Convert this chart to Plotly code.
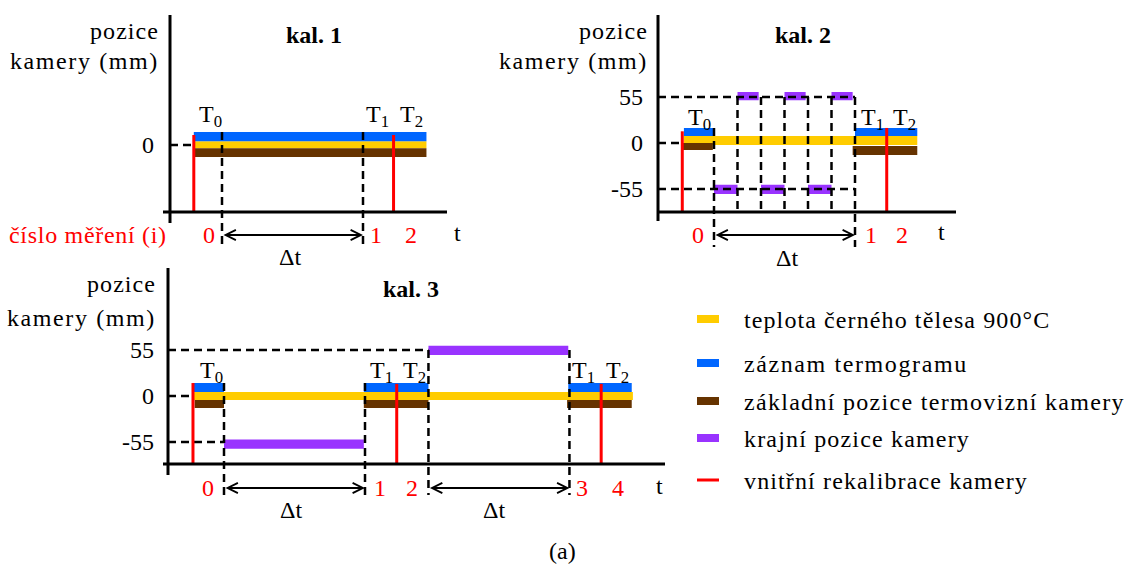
import plotly.graph_objects as go

W, H = 1124, 565
SX = 23.5    # pixels per time unit (one interval Δt = 6 units)
SY = 0.836   # pixels per mm of camera position

SERIF = "Liberation Serif"
FS = 24
BLUE, YELLOW, BROWN, PURPLE, RED = "#0066FF", "#FFCC00", "#663300", "#9933FF", "#FF0000"

# segments: (t_start, t_end, y_low_mm, y_high_mm)
# ---------------- kal. 1 ----------------
k1_yellow = [(-1.2, 8.7, -4.0, 4.5)]
k1_blue = [(-1.2, 8.7, 4.5, 15.5)]
k1_brown = [(-1.15, 8.7, -14.5, -4.0)]
k1_purple = []
k1_recal = [-1.2, 7.3]
k1_recal_top = [12.0, 12.0]
k1_bounds = [0.0, 6.0]
k1_bound_top = [15.5, 15.5]
k1_bound_long = [True, True]
k1_ticks = [0]
k1_guide_end = [-1.2]
k1_dt = [(0.0, 6.0)]
k1_dt_label_t = [2.9]
k1_ids = ["0", "1", "2"]
k1_id_t = [-0.57, 6.55, 8.06]
k1_T = ["T<sub>0</sub>", "T<sub>1</sub>", "T<sub>2</sub>"]
k1_T_t = [-0.5, 6.6, 8.06]

# ---------------- kal. 2 ----------------
k2_yellow = [(-1.28, 8.65, -2.5, 8.5)]
k2_blue = [(-1.28, 0.0, 8.5, 18.0), (6.0, 8.65, 8.5, 18.0)]
k2_brown = [(-1.35, -0.05, -8.5, 0.0), (5.9, 8.65, -14.5, -3.5)]
k2_purple = [(0.0, 1.0, -61.0, -50.0), (1.0, 1.9, 51.0, 61.0),
             (2.0, 3.0, -61.0, -50.0), (3.0, 3.9, 51.0, 61.0),
             (4.0, 5.0, -61.0, -50.0), (5.0, 5.9, 51.0, 61.0)]
k2_recal = [-1.35, 7.35]
k2_recal_top = [14.0, 18.0]
k2_bounds = [0.0, 1.0, 2.0, 3.0, 4.0, 5.0, 6.0]
k2_bound_top = [18.0, 55.0, 55.0, 55.0, 55.0, 55.0, 55.0]
k2_bound_long = [True, False, False, False, False, False, True]
k2_ticks = [55, 0, -55]
k2_guide_end = [6.0, -1.35, 6.0]
k2_dt = [(0.0, 6.0)]
k2_dt_label_t = [3.1]
k2_ids = ["0", "1", "2"]
k2_id_t = [-0.7, 6.68, 8.0]
k2_T = ["T<sub>0</sub>", "T<sub>1</sub>", "T<sub>2</sub>"]
k2_T_t = [-0.6, 6.74, 8.09]

# ---------------- kal. 3 ----------------
k3_yellow = [(-1.32, 17.4, -4.8, 4.8)]
k3_blue = [(-1.32, 0.0, 4.8, 15.5), (5.95, 8.7, 4.8, 15.5), (14.65, 17.35, 4.8, 15.5)]
k3_brown = [(-1.25, 0.0, -14.5, -4.8), (5.95, 8.7, -14.5, -4.8), (14.6, 17.35, -14.5, -4.8)]
k3_purple = [(0.0, 5.95, -63.0, -52.0), (8.7, 14.65, 49.0, 60.0)]
k3_recal = [-1.32, 7.35, 16.05]
k3_recal_top = [15.5, 14.5, 14.5]
k3_bounds = [0.0, 6.0, 8.7, 14.7]
k3_bound_top = [15.5, 15.5, 55.0, 55.0]
k3_bound_long = [True, True, True, True]
k3_ticks = [55, 0, -55]
k3_guide_end = [8.7, -1.32, 0.0]
k3_dt = [(0.0, 6.0), (8.7, 14.7)]
k3_dt_label_t = [2.87, 11.47]
k3_ids = ["0", "1", "2", "3", "4"]
k3_id_t = [-0.7, 6.64, 8.0, 15.25, 16.77]
k3_T = ["T<sub>0</sub>", "T<sub>1</sub>", "T<sub>2</sub>", "T<sub>1</sub>", "T<sub>2</sub>"]
k3_T_t = [-0.53, 6.72, 8.1, 15.3, 16.74]

# ---------------- captions ----------------
ylabel_lines = ["pozice", "kamery (mm)"]
ylabel_spacing = [1.07, 1.6]
id_caption = "číslo měření (i)"

# ---------------- legend ----------------
legend_labels = ["teplota černého tělesa 900°C", "záznam termogramu",
                 "základní pozice termovizní kamery", "krajní pozice kamery",
                 "vnitřní rekalibrace kamery"]
legend_colors = [YELLOW, BLUE, BROWN, PURPLE, RED]
legend_spacing = [1.1, 1.6, 1.3, 1.17, 1.13]

panels = [
    dict(title="kal. 1", ox=222, oy=145, box=(0, 470, 0, 270),
         yellow=k1_yellow, blue=k1_blue, brown=k1_brown, purple=k1_purple,
         recal=k1_recal, recal_top=k1_recal_top, bounds=k1_bounds,
         bound_top=k1_bound_top, bound_long=k1_bound_long, ticks=k1_ticks,
         guide_end=k1_guide_end, dt=k1_dt, dt_label_t=k1_dt_label_t,
         ids=k1_ids, id_t=k1_id_t, T=k1_T, T_t=k1_T_t,
         yaxis_px=170, yaxis_span=(15, 223), xaxis_py=212, xaxis_span=(163, 447),
         title_px=(314, 35), ylab_right=161, ylab_py=(31, 61), tick_right=156,
         id_py=235, T_py=116, dt_py=257, long_py=247, t_px=(457, 233)),
    dict(title="kal. 2", ox=714, oy=143, box=(480, 990, 0, 270),
         yellow=k2_yellow, blue=k2_blue, brown=k2_brown, purple=k2_purple,
         recal=k2_recal, recal_top=k2_recal_top, bounds=k2_bounds,
         bound_top=k2_bound_top, bound_long=k2_bound_long, ticks=k2_ticks,
         guide_end=k2_guide_end, dt=k2_dt, dt_label_t=k2_dt_label_t,
         ids=k2_ids, id_t=k2_id_t, T=k2_T, T_t=k2_T_t,
         yaxis_px=658, yaxis_span=(15, 221), xaxis_py=212, xaxis_span=(657, 956),
         title_px=(803, 35), ylab_right=650, ylab_py=(31, 61), tick_right=645,
         id_py=235, T_py=119, dt_py=258, long_py=247, t_px=(941, 232)),
    dict(title="kal. 3", ox=224, oy=396, box=(0, 690, 268, 530),
         yellow=k3_yellow, blue=k3_blue, brown=k3_brown, purple=k3_purple,
         recal=k3_recal, recal_top=k3_recal_top, bounds=k3_bounds,
         bound_top=k3_bound_top, bound_long=k3_bound_long, ticks=k3_ticks,
         guide_end=k3_guide_end, dt=k3_dt, dt_label_t=k3_dt_label_t,
         ids=k3_ids, id_t=k3_id_t, T=k3_T, T_t=k3_T_t,
         yaxis_px=168, yaxis_span=(268, 475), xaxis_py=464, xaxis_span=(163, 665),
         title_px=(411, 289), ylab_right=158, ylab_py=(284, 318), tick_right=156,
         id_py=488, T_py=372, dt_py=510, long_py=495, t_px=(659, 486)),
]


def spaced(text, ls):
    return f'<span style="letter-spacing:{ls}px">{text}</span>'


def px_x(px):
    return px / W


def px_y(py):
    return 1 - py / H


def label(text, x, y, xref="paper", yref="paper", color="black", xanchor="center"):
    return dict(xref=xref, yref=yref, x=x, y=y, text=text, showarrow=False,
                xanchor=xanchor, yanchor="middle",
                font=dict(family=SERIF, size=FS, color=color))


fig = go.Figure()
shapes, annotations = [], []
layout_axes = {}

DASH = dict(color="black", width=2.5, dash="8px,5px")

for i, p in enumerate(panels, start=1):
    xa, ya = ("x", "y") if i == 1 else (f"x{i}", f"y{i}")
    xk, yk = ("xaxis", "yaxis") if i == 1 else (f"xaxis{i}", f"yaxis{i}")
    L, R, T, B = p["box"]

    def tx(px, p=p):
        return (px - p["ox"]) / SX

    def my(py, p=p):
        return (p["oy"] - py) / SY

    layout_axes[xk] = dict(domain=[L / W, R / W], range=[tx(L), tx(R)],
                           visible=False, anchor=ya, fixedrange=True)
    layout_axes[yk] = dict(domain=[1 - B / H, 1 - T / H], range=[my(B), my(T)],
                           visible=False, anchor=xa, fixedrange=True)

    # coloured bands
    for segs, color in ((p["yellow"], YELLOW), (p["blue"], BLUE),
                        (p["brown"], BROWN), (p["purple"], PURPLE)):
        if not segs:
            continue
        xs, ys = [], []
        for t0, t1, y0, y1 in segs:
            xs += [t0, t1, t1, t0, t0, None]
            ys += [y0, y0, y1, y1, y0, None]
        fig.add_trace(go.Scatter(x=xs, y=ys, mode="lines", fill="toself",
                                 fillcolor=color, line=dict(width=0),
                                 hoverinfo="skip", showlegend=False,
                                 xaxis=xa, yaxis=ya))

    y_axis_t = tx(p["yaxis_px"])
    x_axis_mm = my(p["xaxis_py"])
    long_mm = my(p["long_py"])

    # horizontal guides from the axis to the tick levels
    for lvl, t_end in zip(p["ticks"], p["guide_end"]):
        shapes.append(dict(type="line", xref=xa, yref=ya, x0=y_axis_t, x1=t_end,
                           y0=lvl, y1=lvl, line=DASH, layer="above"))
        annotations.append(label(str(lvl), tx(p["tick_right"]), lvl, xa, ya,
                                 xanchor="right"))

    # vertical dashed boundaries
    for t, top, lng in zip(p["bounds"], p["bound_top"], p["bound_long"]):
        shapes.append(dict(type="line", xref=xa, yref=ya, x0=t, x1=t, y0=top,
                           y1=long_mm if lng else x_axis_mm, line=DASH, layer="above"))

    # recalibration markers
    for t, top in zip(p["recal"], p["recal_top"]):
        shapes.append(dict(type="line", xref=xa, yref=ya, x0=t, x1=t, y0=top,
                           y1=x_axis_mm, line=dict(color=RED, width=3), layer="above"))

    # axis lines
    y0s, y1s = p["yaxis_span"]
    shapes.append(dict(type="line", xref=xa, yref=ya, x0=y_axis_t, x1=y_axis_t,
                       y0=my(y1s), y1=my(y0s), line=dict(color="black", width=3),
                       layer="above"))
    x0s, x1s = p["xaxis_span"]
    shapes.append(dict(type="line", xref=xa, yref=ya, x0=tx(x0s), x1=tx(x1s),
                       y0=x_axis_mm, y1=x_axis_mm, line=dict(color="black", width=3),
                       layer="above"))

    # Δt arrows and labels
    for (t0, t1), lt in zip(p["dt"], p["dt_label_t"]):
        annotations.append(dict(xref=xa, yref=ya, x=t1, y=my(p["id_py"]),
                                ax=t0, ay=my(p["id_py"]), axref=xa, ayref=ya,
                                text="", showarrow=True, arrowside="end+start",
                                arrowhead=5, startarrowhead=5, arrowsize=1.0,
                                startarrowsize=1.0, arrowwidth=2, arrowcolor="black",
                                standoff=0, startstandoff=0))
        annotations.append(label("Δt", lt, my(p["dt_py"]), xa, ya))

    # measurement numbers and T labels
    for s, t in zip(p["ids"], p["id_t"]):
        annotations.append(label(s, t, my(p["id_py"]), xa, ya, color=RED))
    for s, t in zip(p["T"], p["T_t"]):
        annotations.append(label(s, t, my(p["T_py"]), xa, ya))

    # titles and axis captions
    annotations.append(label(f"<b>{p['title']}</b>", px_x(p["title_px"][0]),
                             px_y(p["title_px"][1])))
    for s, ls, py in zip(ylabel_lines, ylabel_spacing, p["ylab_py"]):
        annotations.append(label(spaced(s, ls), px_x(p["ylab_right"]), px_y(py),
                                 xanchor="right"))
    annotations.append(label("t", px_x(p["t_px"][0]), px_y(p["t_px"][1])))

annotations.append(label(spaced(id_caption, 0.7), px_x(169), px_y(235),
                         color=RED, xanchor="right"))
annotations.append(label("(a)", px_x(562), px_y(551)))

# legend
leg_rows = [319, 363, 401, 438, 480]
for lab, col, ls, py in zip(legend_labels, legend_colors, legend_spacing, leg_rows):
    hh = 1.5 if col == RED else 4
    shapes.append(dict(type="rect", xref="paper", yref="paper",
                       x0=px_x(697), x1=px_x(719), y0=px_y(py + hh), y1=px_y(py - hh),
                       fillcolor=col, line=dict(width=0)))
    annotations.append(label(spaced(lab, ls), px_x(742), px_y(py + 1), xanchor="left"))

fig.update_layout(width=W, height=H, margin=dict(l=0, r=0, t=0, b=0),
                  paper_bgcolor="white", plot_bgcolor="white", showlegend=False,
                  shapes=shapes, annotations=annotations, **layout_axes)

fig.write_html("out.html")
